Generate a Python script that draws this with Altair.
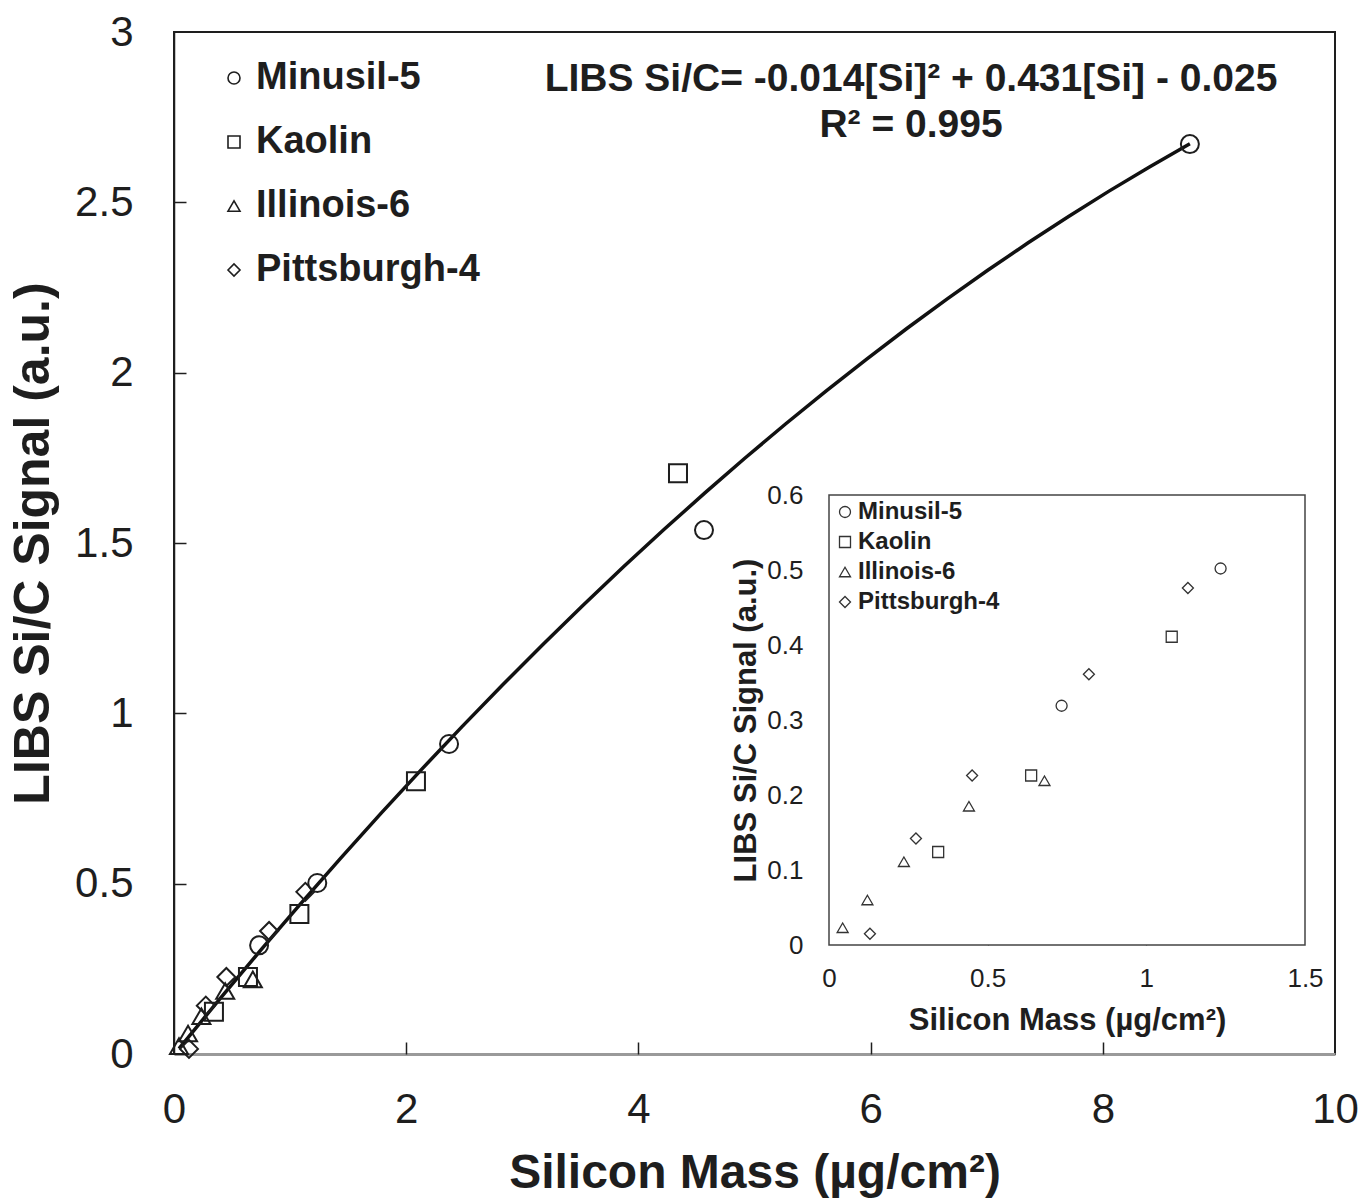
import altair as alt
import pandas as pd

# ---------------- data ----------------
series_names = ["Minusil-5", "Kaolin", "Illinois-6", "Pittsburgh-4"]
series_shapes = ["circle", "square", "triangle-up", "diamond"]

minusil_mass = [0.733, 1.234, 2.369, 4.565, 8.75]
minusil_signal = [0.319, 0.502, 0.910, 1.538, 2.671]
kaolin_mass = [0.344, 0.637, 1.080, 2.084, 4.341]
kaolin_signal = [0.124, 0.226, 0.411, 0.801, 1.705]
illinois_mass = [0.043, 0.121, 0.236, 0.441, 0.679]
illinois_signal = [0.023, 0.060, 0.111, 0.185, 0.219]
pitt_mass = [0.129, 0.274, 0.451, 0.819, 1.131]
pitt_signal = [0.015, 0.142, 0.226, 0.361, 0.476]

main_x_domain = [0, 10]
main_y_domain = [0, 3]
main_x_ticks = [0, 2, 4, 6, 8, 10]
main_y_ticks = [0, 0.5, 1, 1.5, 2, 2.5, 3]
inset_x_domain = [0, 1.5]
inset_y_domain = [0, 0.6]
inset_x_ticks = [0, 0.5, 1, 1.5]
inset_y_ticks = [0, 0.1, 0.2, 0.3, 0.4, 0.5, 0.6]

equation_text = "LIBS Si/C= -0.014[Si]\u00b2 + 0.431[Si] - 0.025\nR\u00b2 = 0.995"
x_title = "Silicon Mass (\u00b5g/cm\u00b2)"
y_title = "LIBS Si/C Signal (a.u.)"

rows = []
for name, xs, ys in [
    ("Minusil-5", minusil_mass, minusil_signal),
    ("Kaolin", kaolin_mass, kaolin_signal),
    ("Illinois-6", illinois_mass, illinois_signal),
    ("Pittsburgh-4", pitt_mass, pitt_signal),
]:
    for a, b in zip(xs, ys):
        rows.append({"series": name, "mass": a, "signal": b})
df = pd.DataFrame(rows)

frame_df = pd.DataFrame({"x0": [inset_x_domain[0]], "x1": [inset_x_domain[1]],
                         "y0": [inset_y_domain[0]], "y1": [inset_y_domain[1]]})
eq_df = pd.DataFrame({"t": [equation_text]})

# ---------------- layout ----------------
W, H = 1161, 1022
PAD_L, PAD_T = 174, 32
FONT = "Liberation Sans, Arial, sans-serif"
INK = "#1e1e1e"

# inset placement in plot pixels
IN_L, IN_R = 829 - PAD_L, 1305 - PAD_L
IN_T, IN_B = 495 - PAD_T, 945 - PAD_T

xs_main = alt.Scale(domain=main_x_domain, nice=False, zero=False)
ys_main = alt.Scale(domain=main_y_domain, nice=False, zero=False)
xs_in = alt.Scale(domain=inset_x_domain, nice=False, zero=False, range=[IN_L, IN_R])
ys_in = alt.Scale(domain=inset_y_domain, nice=False, zero=False, range=[IN_B, IN_T])

shape_scale = alt.Scale(domain=series_names, range=series_shapes)

# ---------------- main chart ----------------
fit = alt.Chart(df).transform_regression(
    "mass", "signal", method="poly", order=2
).mark_line(color="#111111", strokeWidth=3.5).encode(
    x=alt.X("mass:Q", scale=xs_main, axis=None),
    y=alt.Y("signal:Q", scale=ys_main, axis=None),
)

pts = alt.Chart(df).mark_point(filled=False, size=324, strokeWidth=2, color=INK, opacity=1).encode(
    x=alt.X("mass:Q", scale=xs_main, axis=alt.Axis(
        orient="bottom", values=main_x_ticks, format="~r", tickSize=0,
        labelFontSize=42, labelPadding=35, labelFlush=False, labelOverlap=False,
        domainColor="#9a9a9a", domainWidth=3,
        title=x_title, titleFontSize=48, titleFontWeight="bold",
        titleY=133, titleBaseline="alphabetic")),
    y=alt.Y("signal:Q", scale=ys_main, axis=alt.Axis(
        orient="left", values=main_y_ticks, format="~r", tickSize=0,
        labelFontSize=42, labelPadding=41, labelOverlap=False,
        domainColor=INK, domainWidth=1.5,
        title=y_title, titleFontSize=50, titleFontWeight="bold",
        titleX=-126, titleBaseline="alphabetic")),
    shape=alt.Shape("series:N", scale=shape_scale, legend=alt.Legend(
        orient="none", legendX=41, legendY=27, title=None, padding=0,
        labelFontSize=38, labelFontWeight="bold", labelColor=INK, labelLimit=500,
        labelOffset=3, rowPadding=26, symbolSize=144, symbolStrokeWidth=1.6,
        symbolStrokeColor=INK, symbolFillColor="transparent")),
)

eq = alt.Chart(eq_df).mark_text(
    font=FONT, fontSize=39, fontWeight="bold", color=INK, align="center",
    baseline="middle", lineBreak="\n", lineHeight=46,
).encode(text="t:N", x=alt.value(737), y=alt.value(47))

ticks_main = alt.Chart(df).mark_point(opacity=0).encode(
    x=alt.X("mass:Q", scale=xs_main, axis=alt.Axis(
        orient="top", offset=-H, values=main_x_ticks[1:-1], labels=False, title=None,
        domain=False, tickSize=12, tickWidth=1.5, tickColor=INK)),
    y=alt.Y("signal:Q", scale=ys_main, axis=alt.Axis(
        orient="right", offset=-W, values=main_y_ticks[1:-1], labels=False, title=None,
        domain=False, tickSize=12, tickWidth=1.5, tickColor=INK)),
)

main_group = alt.layer(fit, pts, eq, ticks_main).resolve_axis(x="independent", y="independent")

# ---------------- inset ----------------
frame = alt.Chart(frame_df).mark_rect(fill="white", stroke="#444444", strokeWidth=1.5).encode(
    x=alt.X("x0:Q", scale=xs_in, axis=None), x2="x1:Q",
    y=alt.Y("y0:Q", scale=ys_in, axis=None), y2="y1:Q",
)

in_pts = alt.Chart(df).transform_filter(
    alt.datum.mass <= inset_x_domain[1]
).mark_point(filled=False, size=121, strokeWidth=1.3, color="#333333", opacity=1).encode(
    x=alt.X("mass:Q", scale=xs_in, axis=alt.Axis(
        orient="bottom", offset=-(H - IN_B), values=inset_x_ticks, format="~r", tickSize=0,
        labelFontSize=26, labelPadding=20, labelFlush=False, labelOverlap=False,
        domain=False, title=x_title, titleFontSize=31, titleFontWeight="bold",
        titleY=84, titleBaseline="alphabetic")),
    y=alt.Y("signal:Q", scale=ys_in, axis=alt.Axis(
        orient="left", offset=-IN_L, values=inset_y_ticks, format="~r", tickSize=0,
        labelFontSize=26, labelPadding=26, labelOverlap=False,
        domain=False, title=y_title, titleFontSize=31, titleFontWeight="bold",
        titleX=-74, titleBaseline="alphabetic")),
    shape=alt.Shape("series:N", scale=shape_scale, legend=alt.Legend(
        orient="none", legendX=659, legendY=468, title=None, padding=0,
        labelFontSize=24, labelFontWeight="bold", labelColor=INK, labelLimit=400,
        labelOffset=1, rowPadding=6, symbolSize=121, symbolStrokeWidth=1.3,
        symbolStrokeColor="#333333", symbolFillColor="transparent")),
)

ticks_in = alt.Chart(df).transform_filter(
    alt.datum.mass <= inset_x_domain[1]
).mark_point(opacity=0).encode(
    x=alt.X("mass:Q", scale=xs_in, axis=alt.Axis(
        orient="top", offset=-IN_B, values=inset_x_ticks[1:-1], labels=False, title=None,
        domain=False, tickSize=8, tickWidth=1.2, tickColor="#444444")),
    y=alt.Y("signal:Q", scale=ys_in, axis=alt.Axis(
        orient="right", offset=-(W - IN_L), values=inset_y_ticks[1:-1], labels=False, title=None,
        domain=False, tickSize=8, tickWidth=1.2, tickColor="#444444")),
)

inset_group = alt.layer(frame, in_pts, ticks_in).resolve_axis(x="independent", y="independent")

chart = alt.layer(main_group, inset_group).resolve_scale(
    x="independent", y="independent", shape="independent"
).properties(
    width=W, height=H,
    padding={"left": PAD_L, "top": PAD_T, "right": 1363 - PAD_L - W, "bottom": 1201 - PAD_T - H},
    autosize=alt.AutoSizeParams(type="none"),
).configure_view(
    stroke=INK, strokeWidth=2
).configure_axis(
    labelFont=FONT, titleFont=FONT, labelColor=INK, titleColor=INK, grid=False,
).configure_legend(
    labelFont=FONT,
)

chart.save("out.html", embed_options={"renderer": "svg", "actions": False})
